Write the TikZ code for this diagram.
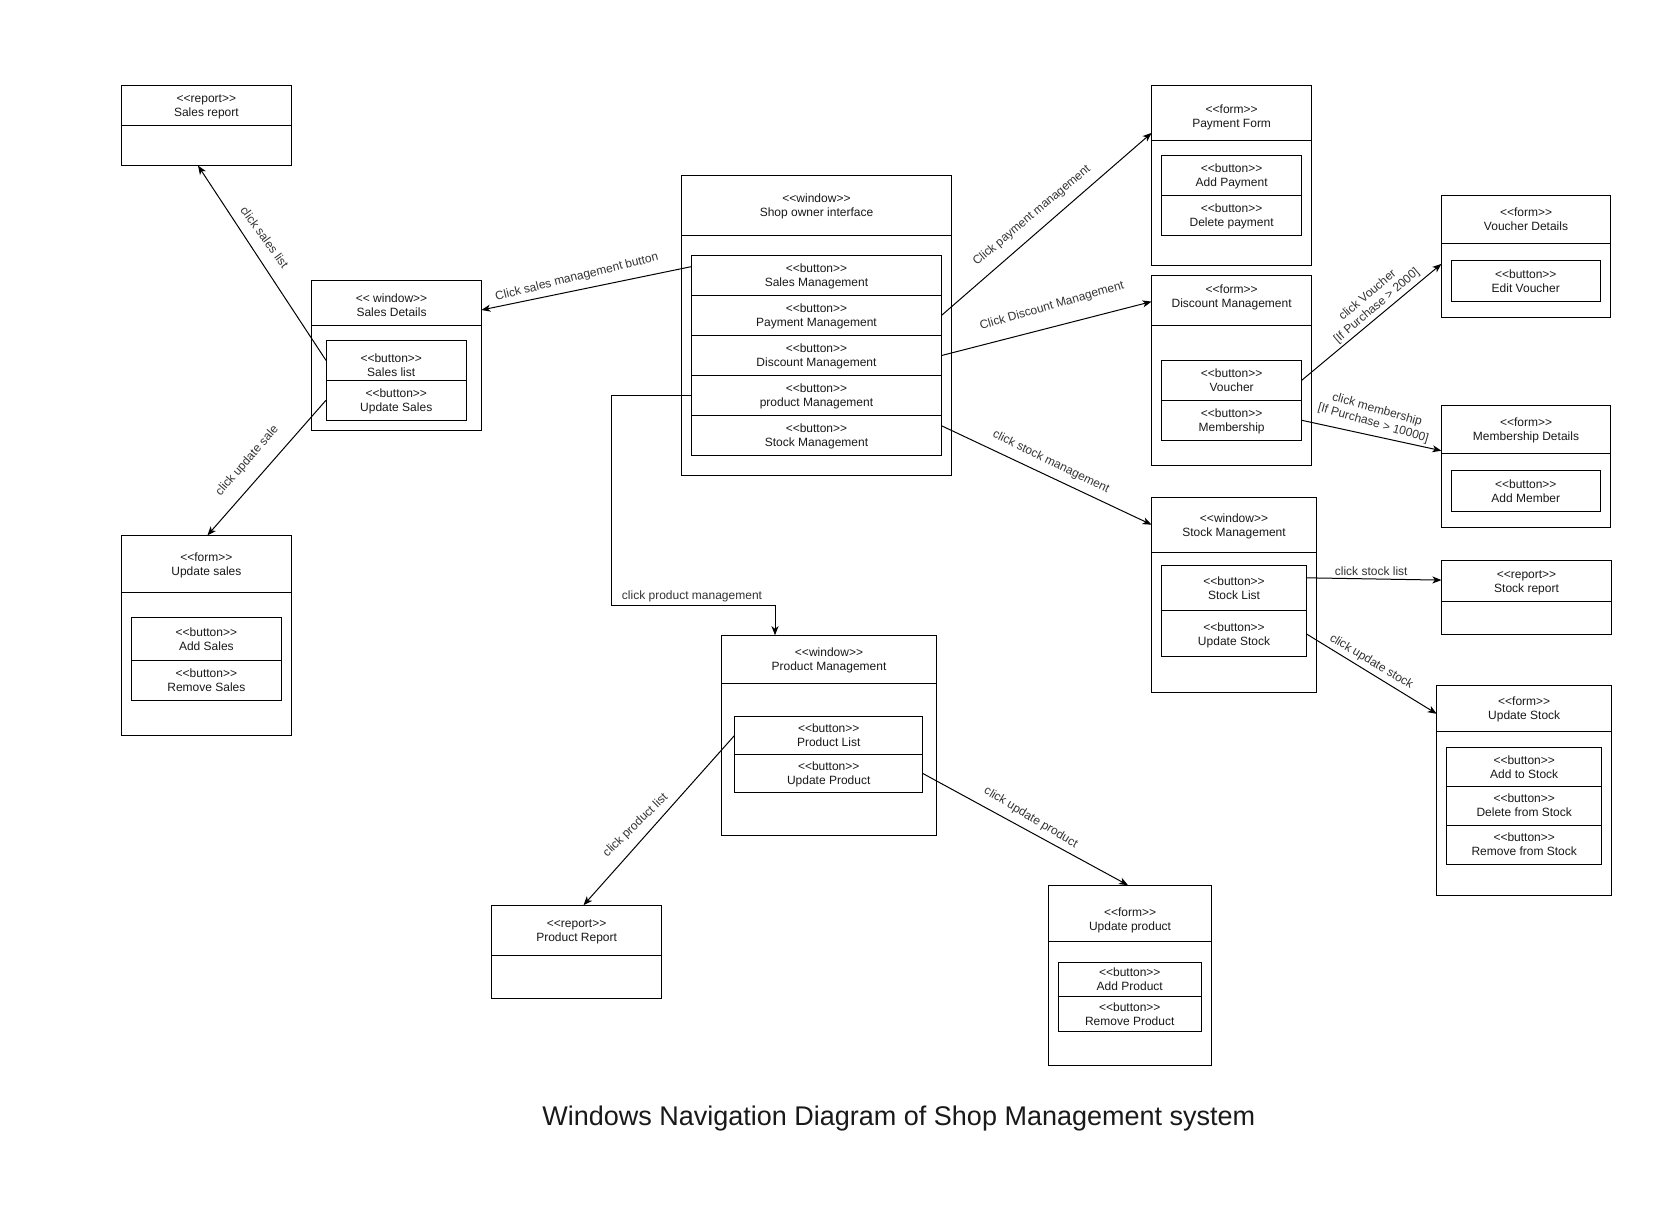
\documentclass[tikz,border=0pt]{standalone}
\usepackage{fontspec}
\newfontfamily\lib{Liberation Sans}
\usetikzlibrary{arrows.meta,fit,calc}
\newcommand{\st}[1]{<<#1>>}
\newcommand{\tx}[2]{\begin{tabular}{@{}c@{}}#1\\\relax #2\end{tabular}}
\begin{document}
\begin{tikzpicture}[x=1pt,y=-1pt,
  box/.style={draw, line width=1pt, inner sep=0pt, outer sep=0pt},
  txt/.style={inner sep=0pt, yshift=-1.5pt, font=\lib\fontsize{12}{14}\selectfont, text=black!90},
  lbl/.style={inner sep=0pt, font=\lib\fontsize{12}{14}\selectfont, text=black!80},
  arr/.style={-{Stealth[length=9pt,width=7pt,inset=2.5pt]}, line width=1pt}]
\fill[white] (0,0) rectangle (1668,1208);
\useasboundingbox (0,0) rectangle (1668,1208);

% Sales report
\node[box, fit={(121.3,85.5) (291.5,165.6)}] (salesreport) {};
\node[box, fit={(121.3,85.5) (291.5,125.6)}] (salesreportH) {};
\node[txt] (salesreportT) at (salesreportH.center) {\tx{\st{report}}{Sales report}};

% Sales details
\node[box, fit={(311.7,280.4) (481.4,430.3)}] (salesdetails) {};
\node[box, fit={(311.7,280.4) (481.4,325.5)}] (salesdetailsH) {};
\node[txt] (salesdetailsT) at ([xshift=-5pt,yshift=-2.5pt]salesdetailsH.center) {\tx{\st{ window}}{Sales Details}};
\node[box, fit={(326,340.5) (466.5,380.2)}] (bSalesList) {};
\node[txt] (bSalesListT) at ([xshift=-5pt,yshift=-5pt]bSalesList.center) {\tx{\st{button}}{Sales list}};
\node[box, fit={(326,380.2) (466.5,420.3)}] (bUpdateSales) {};
\node[txt] (bUpdateSalesT) at (bUpdateSales.center) {\tx{\st{button}}{Update Sales}};

% Update sales
\node[box, fit={(121.3,535.4) (291.5,735.4)}] (updatesales) {};
\node[box, fit={(121.3,535.4) (291.5,592)}] (updatesalesH) {};
\node[txt] (updatesalesT) at (updatesalesH.center) {\tx{\st{form}}{Update sales}};
\node[box, fit={(131.4,617.5) (281.4,660.2)}] (bAddSales) {};
\node[txt] (bAddSalesT) at (bAddSales.center) {\tx{\st{button}}{Add Sales}};
\node[box, fit={(131.4,660.2) (281.4,700.3)}] (bRemoveSales) {};
\node[txt] (bRemoveSalesT) at (bRemoveSales.center) {\tx{\st{button}}{Remove Sales}};

% Shop owner interface
\node[box, fit={(681.4,175.3) (951.6,475.3)}] (shop) {};
\node[box, fit={(681.4,175.3) (951.6,235.4)}] (shopH) {};
\node[txt] (shopT) at (shopH.center) {\tx{\st{window}}{Shop owner interface}};
\node[box, fit={(691.5,255.4) (941.4,295.5)}] (bSalesMgmt) {};
\node[txt] (bSalesMgmtT) at (bSalesMgmt.center) {\tx{\st{button}}{Sales Management}};
\node[box, fit={(691.5,295.5) (941.4,335.5)}] (bPaymentMgmt) {};
\node[txt] (bPaymentMgmtT) at (bPaymentMgmt.center) {\tx{\st{button}}{Payment Management}};
\node[box, fit={(691.5,335.5) (941.4,375.6)}] (bDiscountMgmt) {};
\node[txt] (bDiscountMgmtT) at (bDiscountMgmt.center) {\tx{\st{button}}{Discount Management}};
\node[box, fit={(691.5,375.6) (941.4,415.3)}] (bProductMgmt) {};
\node[txt] (bProductMgmtT) at (bProductMgmt.center) {\tx{\st{button}}{product Management}};
\node[box, fit={(691.5,415.3) (941.4,455.3)}] (bStockMgmt) {};
\node[txt] (bStockMgmtT) at (bStockMgmt.center) {\tx{\st{button}}{Stock Management}};

% Payment form
\node[box, fit={(1151.6,85.5) (1311.7,265.4)}] (payment) {};
\node[box, fit={(1151.6,85.5) (1311.7,140.2)}] (paymentH) {};
\node[txt] (paymentT) at ([yshift=-3pt]paymentH.center) {\tx{\st{form}}{Payment Form}};
\node[box, fit={(1161.7,155.2) (1301.6,195.3)}] (bAddPayment) {};
\node[txt] (bAddPaymentT) at (bAddPayment.center) {\tx{\st{button}}{Add Payment}};
\node[box, fit={(1161.7,195.3) (1301.6,235.4)}] (bDeletePayment) {};
\node[txt] (bDeletePaymentT) at (bDeletePayment.center) {\tx{\st{button}}{Delete payment}};

% Discount management
\node[box, fit={(1151.6,275.4) (1311.7,465.3)}] (discount) {};
\node[box, fit={(1151.6,275.4) (1311.7,325.5)}] (discountH) {};
\node[txt] (discountT) at ([yshift=4.5pt]discountH.center) {\tx{\st{form}}{Discount Management}};
\node[box, fit={(1161.7,360.6) (1301.6,400.2)}] (bVoucher) {};
\node[txt] (bVoucherT) at (bVoucher.center) {\tx{\st{button}}{Voucher}};
\node[box, fit={(1161.7,400.2) (1301.6,440.3)}] (bMembership) {};
\node[txt] (bMembershipT) at (bMembership.center) {\tx{\st{button}}{Membership}};

% Voucher details
\node[box, fit={(1441.4,195.3) (1610.6,317.4)}] (voucherd) {};
\node[box, fit={(1441.4,195.3) (1610.6,243.8)}] (voucherdH) {};
\node[txt] (voucherdT) at (voucherdH.center) {\tx{\st{form}}{Voucher Details}};
\node[box, fit={(1451,260.4) (1600.5,301.2)}] (bEditVoucher) {};
\node[txt] (bEditVoucherT) at (bEditVoucher.center) {\tx{\st{button}}{Edit Voucher}};

% Membership details
\node[box, fit={(1441.4,405.2) (1610.6,527)}] (memberd) {};
\node[box, fit={(1441.4,405.2) (1610.6,453.8)}] (memberdH) {};
\node[txt] (memberdT) at (memberdH.center) {\tx{\st{form}}{Membership Details}};
\node[box, fit={(1451,470.3) (1600.5,511.2)}] (bAddMember) {};
\node[txt] (bAddMemberT) at (bAddMember.center) {\tx{\st{button}}{Add Member}};

% Stock management
\node[box, fit={(1151.6,497.3) (1316.4,692.6)}] (stockmgmt) {};
\node[box, fit={(1151.6,497.3) (1316.4,552.4)}] (stockmgmtH) {};
\node[txt] (stockmgmtT) at (stockmgmtH.center) {\tx{\st{window}}{Stock Management}};
\node[box, fit={(1161.7,565.9) (1306.3,610.9)}] (bStockList) {};
\node[txt] (bStockListT) at (bStockList.center) {\tx{\st{button}}{Stock List}};
\node[box, fit={(1161.7,610.9) (1306.3,656.8)}] (bUpdateStock) {};
\node[txt] (bUpdateStockT) at (bUpdateStock.center) {\tx{\st{button}}{Update Stock}};

% Stock report
\node[box, fit={(1441.4,560.5) (1611.7,634.8)}] (stockreport) {};
\node[box, fit={(1441.4,560.5) (1611.7,601)}] (stockreportH) {};
\node[txt] (stockreportT) at (stockreportH.center) {\tx{\st{report}}{Stock report}};

% Update stock
\node[box, fit={(1436.7,685.3) (1611.7,895.2)}] (updatestock) {};
\node[box, fit={(1436.7,685.3) (1611.7,731.5)}] (updatestockH) {};
\node[txt] (updatestockT) at (updatestockH.center) {\tx{\st{form}}{Update Stock}};
\node[box, fit={(1446.8,747.3) (1601.6,786.2)}] (bAddStock) {};
\node[txt] (bAddStockT) at (bAddStock.center) {\tx{\st{button}}{Add to Stock}};
\node[box, fit={(1446.8,786.2) (1601.6,825.1)}] (bDeleteStock) {};
\node[txt] (bDeleteStockT) at (bDeleteStock.center) {\tx{\st{button}}{Delete from Stock}};
\node[box, fit={(1446.8,825.1) (1601.6,864)}] (bRemoveStock) {};
\node[txt] (bRemoveStockT) at (bRemoveStock.center) {\tx{\st{button}}{Remove from Stock}};

% Product management
\node[box, fit={(721.3,635.2) (936.7,835.1)}] (prodmgmt) {};
\node[box, fit={(721.3,635.2) (936.7,683.4)}] (prodmgmtH) {};
\node[txt] (prodmgmtT) at (prodmgmtH.center) {\tx{\st{window}}{Product Management}};
\node[box, fit={(734.6,716.5) (922.8,754.2)}] (bProductList) {};
\node[txt] (bProductListT) at (bProductList.center) {\tx{\st{button}}{Product List}};
\node[box, fit={(734.6,754.2) (922.8,792.7)}] (bUpdateProduct) {};
\node[txt] (bUpdateProductT) at (bUpdateProduct.center) {\tx{\st{button}}{Update Product}};

% Product report
\node[box, fit={(491.5,905.2) (661.7,998.8)}] (productreport) {};
\node[box, fit={(491.5,905.2) (661.7,955.3)}] (productreportH) {};
\node[txt] (productreportT) at (productreportH.center) {\tx{\st{report}}{Product Report}};

% Update product
\node[box, fit={(1048.4,885.2) (1211.7,1065.1)}] (updateproduct) {};
\node[box, fit={(1048.4,885.2) (1211.7,941)}] (updateproductH) {};
\node[txt] (updateproductT) at ([yshift=-6pt]updateproductH.center) {\tx{\st{form}}{Update product}};
\node[box, fit={(1058.5,962.2) (1201,996.5)}] (bAddProduct) {};
\node[txt] (bAddProductT) at (bAddProduct.center) {\tx{\st{button}}{Add Product}};
\node[box, fit={(1058.5,996.5) (1201,1031.2)}] (bRemoveProduct) {};
\node[txt] (bRemoveProductT) at (bRemoveProduct.center) {\tx{\st{button}}{Remove Product}};

% Connectors
\draw[arr] ([yshift=8.85pt]bSalesMgmt.west) -- ([yshift=45.35pt]salesdetails.east);
\draw[arr] (bSalesList.west) -- ([xshift=-8.4pt]salesreport.south);
\draw[arr] (bUpdateSales.west) -- ([xshift=1pt]updatesales.north);
\draw[arr] (bPaymentMgmt.east) -- ([yshift=42.55pt]payment.west);
\draw[arr] (bDiscountMgmt.east) -- ([yshift=68.75pt]discount.west);
\draw[arr] ([yshift=9.6pt]bStockMgmt.east) -- ([yshift=70.25pt]stockmgmt.west);
\draw[arr] (bProductMgmt.west) -| (611.7,605) -| ([xshift=-54pt]prodmgmt.north);
\draw[arr] (bVoucher.east) -- ([yshift=-7.55pt]voucherd.west);
\draw[arr] (bMembership.east) -- ([yshift=15.4pt]memberd.west);
\draw[arr] ([yshift=10.6pt]bStockList.east) -- ([yshift=17.55pt]stockreport.west);
\draw[arr] (bUpdateStock.east) -- ([yshift=76.45pt]updatestock.west);
\draw[arr] (bProductList.west) -- ([xshift=6.9pt]productreport.north);
\draw[arr] (bUpdateProduct.east) -- ([xshift=-2pt]updateproduct.north);

% Labels
\node[lbl, rotate=14] (l1) at (576.9,277.4) {Click sales management button};
\node[lbl, rotate=-54] (l2) at (264.6,237) {click sales list};
\node[lbl, rotate=49] (l3) at (247.3,461) {click update sale};
\node[lbl, rotate=40] (l4) at (1031.9,215.7) {Click payment management};
\node[lbl, rotate=16] (l5) at (1052,306.2) {Click Discount Management};
\node[lbl, rotate=-26] (l6) at (1051,462.2) {click stock management};
\node[lbl] (l7) at (692,596) {click product management};
\node[lbl, rotate=40.5] (l8) at (1372.5,301) {\tx{click Voucher}{[If Purchase > 2000]}};
\node[lbl, rotate=-16] (l9) at (1375,417) {\tx{click membership}{[If Purchase > 10000]}};
\node[lbl] (l10) at (1371.2,570.9) {click stock list};
\node[lbl, rotate=-31] (l11) at (1371.2,661.8) {click update stock};
\node[lbl, rotate=44] (l12) at (635.6,825.5) {click product list};
\node[lbl, rotate=-31] (l13) at (1030.8,817.8) {click update product};

% Title
\node[inner sep=0pt, font=\lib\fontsize{27}{32}\selectfont, text=black!90] (title) at (898.8,1119) {Windows Navigation Diagram of Shop Management system};
\end{tikzpicture}
\end{document}
